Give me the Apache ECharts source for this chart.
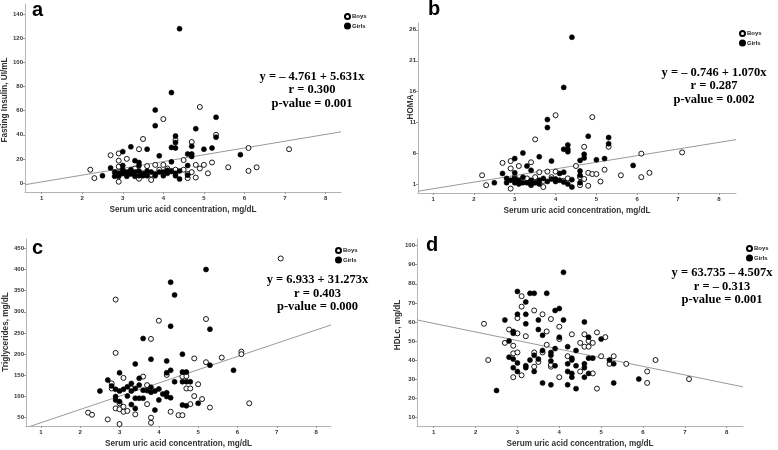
<!DOCTYPE html>
<html><head><meta charset="utf-8">
<script src="https://cdn.jsdelivr.net/npm/echarts@6/dist/echarts.min.js"></script>
<style>html,body{margin:0;padding:0;background:#fff}#c{width:778px;height:450px}</style>
</head><body><div id="c"></div>
<script>
// ---------- DATA ----------
const xTicks = [1, 2, 3, 4, 5, 6, 7, 8];
const yTicksA = [0, 20, 40, 60, 80, 100, 120, 140];
const yTicksB = [1, 6, 11, 16, 21, 26];
const yTicksC = [50, 100, 150, 200, 250, 300, 350, 400, 450];
const yTicksD = [10, 20, 30, 40, 50, 60, 70, 80, 90, 100];

const xTitle = 'Serum uric acid concentration, mg/dL';
const yTitles = ['Fasting Insulin, UI/mL', 'HOMA', 'Triglycerides, mg/dL', 'HDLc, mg/dL'];
const panelLetters = ['a', 'b', 'c', 'd'];
const groupNames = ['Boys', 'Girls'];

// regression coefficients [intercept, slope] as printed
const fitA = [-4.761, 5.631];
const fitB = [-0.746, 1.070];
const fitC = [6.933, 31.273];
const fitD = [63.735, -4.507];

const eqA = ['y = – 4.761 + 5.631x', 'r = 0.300', 'p-value = 0.001'];
const eqB = ['y = – 0.746 + 1.070x', 'r = 0.287', 'p-value = 0.002'];
const eqC = ['y = 6.933 + 31.273x', 'r = 0.403', 'p-value = 0.000'];
const eqD = ['y = 63.735 – 4.507x', 'r = – 0.313', 'p-value = 0.001'];

// Panel a: Fasting insulin
const aBoys = [[2.2,11],[2.3,4],[2.7,23],[2.9,24.5],[2.9,18.5],[2.9,13.5],[2.9,1],[2.9,9],[3.0,8],[3.1,20],[3.2,10],[3.3,12],[3.4,28],[3.4,3.5],[3.5,36.5],[3.5,8],[3.6,14],[3.7,2.5],[3.7,7],[3.8,15],[3.9,11],[4.0,53],[4.0,15],[4.1,12],[4.2,10],[4.3,35.5],[4.3,11],[4.5,19],[4.5,11],[4.6,4],[4.6,7.5],[4.7,34],[4.7,9],[4.8,15],[4.8,4.5],[4.9,12],[4.9,63],[5.0,15],[5.1,8],[5.2,17],[5.3,40],[5.6,13],[6.1,29],[6.1,10],[6.3,13],[7.1,28]];
const aGirls = [[4.4,128],[4.2,75],[3.8,60.5],[3.8,47.5],[5.3,54.5],[4.8,45],[5.3,38],[4.3,39],[4.3,33.5],[4.2,29.5],[4.3,29],[4.7,30.5],[5.2,29],[5.0,28],[3.6,28],[3.2,30],[3.0,26],[3.9,22.5],[3.3,18.5],[3.4,17],[3.4,14.5],[3.0,14.5],[2.7,12.5],[2.5,6],[4.2,17.5],[4.6,24],[4.7,24],[4.7,22],[4.6,14.5],[4.6,6.5],[4.4,3.3],[4.4,10],[5.9,23.5],[2.8,9],[2.8,5.5],[2.9,8],[2.9,5.5],[3.0,8],[3.0,11],[3.1,9],[3.1,5.5],[3.2,7.5],[3.2,11],[3.3,9],[3.3,5.5],[3.4,6],[3.4,10],[3.5,7.5],[3.5,6],[3.6,6],[3.6,10],[3.7,9],[3.8,7.5],[3.8,6],[3.9,9],[4.0,9],[4.0,6],[4.1,10.5],[4.1,8],[4.2,9.5],[4.3,6],[4.3,8]];

// Panel b: HOMA
const bBoys = [[2.2,2.5],[2.3,0.9],[2.7,4.5],[2.9,4.8],[2.9,3.6],[2.9,0.35],[3.0,2.2],[3.1,4.0],[3.3,2.0],[3.4,4.6],[3.4,0.9],[3.5,8.3],[3.5,2.2],[3.6,3.0],[3.7,0.6],[3.7,1.6],[3.8,3.1],[3.9,2.2],[4.0,12.2],[4.0,3.1],[4.2,1.6],[4.3,2.0],[4.5,4.0],[4.6,0.9],[4.6,2.2],[4.7,7.1],[4.7,1.9],[4.8,2.9],[4.8,0.8],[4.9,2.7],[4.9,11.9],[5.0,2.7],[5.1,1.5],[5.2,3.4],[5.3,7.1],[5.6,2.5],[6.1,6.0],[6.1,2.2],[6.3,2.9],[7.1,6.2]];
const bGirls = [[4.4,24.8],[4.2,16.7],[3.8,11.5],[3.8,10.2],[5.3,8.6],[4.8,8.8],[5.3,7.6],[4.3,7.4],[4.3,6.7],[4.2,6.7],[4.3,6.3],[4.7,5.9],[4.7,5.3],[4.6,4.9],[5.2,5.2],[5.0,5.0],[3.6,5.5],[3.2,6.1],[3.0,5.2],[3.9,4.8],[3.3,4.0],[3.4,3.3],[3.0,2.9],[2.7,2.8],[2.5,1.3],[4.1,2.8],[4.2,3.0],[4.6,3.2],[4.6,2.5],[4.6,1.3],[4.4,0.6],[4.4,1.8],[5.9,4.1],[4.3,1.1],[2.8,2.0],[2.8,1.3],[2.9,1.7],[3.0,1.3],[3.0,2.0],[3.1,1.7],[3.2,1.3],[3.2,2.2],[3.3,1.3],[3.4,1.7],[3.5,1.3],[3.6,1.7],[3.6,1.1],[3.7,2.0],[3.8,1.5],[3.9,1.9],[4.0,1.9],[4.0,1.5],[4.1,1.7],[4.2,1.4],[3.4,1.0],[3.1,1.1]];

// Panel c: Triglycerides
const cBoys = [[2.2,62],[2.3,57],[2.7,46],[2.8,131],[2.8,119],[2.9,329],[2.9,203],[2.9,72],[3.0,35],[3.0,70],[3.0,84],[3.1,64],[3.1,76],[3.1,144],[3.2,66],[3.3,119],[3.4,58],[3.6,147],[3.7,82],[3.7,127],[3.8,236],[3.8,50],[3.8,38],[4.0,279],[4.2,151],[4.3,64],[4.5,56],[4.6,56],[4.6,147],[4.7,148],[4.7,119],[4.8,119],[4.8,82],[4.9,190],[4.9,101],[5.0,129],[5.1,94],[5.2,283],[5.2,181],[5.3,74],[5.6,192],[6.1,206],[6.1,200],[6.3,84],[7.1,426]];
const cGirls = [[5.2,400],[4.3,370],[4.4,340],[4.3,266],[5.3,259],[3.6,237],[3.8,188],[4.2,184],[3.4,177],[5.3,174],[5.9,162],[4.6,200],[3.0,156],[4.2,156],[4.3,162],[4.6,158],[4.7,158],[2.7,139],[2.5,113],[2.8,125],[2.9,117],[2.9,100],[2.9,92],[3.0,113],[3.0,88],[3.1,117],[3.2,123],[3.2,101],[3.3,113],[3.3,131],[3.3,81],[3.4,119],[3.4,96],[3.4,72],[3.5,143],[3.5,127],[3.5,96],[3.6,115],[3.6,96],[3.7,114],[3.8,122],[3.8,110],[3.9,113],[3.9,68],[4.0,118],[4.0,92],[4.1,106],[4.2,109],[4.2,100],[4.3,97],[4.4,135],[4.6,135],[4.7,135],[4.8,135],[4.6,80],[4.7,78],[5.0,84]];

// Panel d: HDLc
const dBoys = [[2.2,59],[2.3,40],[2.8,56],[2.7,49],[2.9,47.5],[2.9,43.5],[2.9,31],[3.0,44],[3.0,62],[3.0,54],[3.1,32],[3.1,68],[3.1,73.5],[3.2,52.5],[3.4,66],[3.4,44],[3.4,36.5],[3.5,39],[3.6,44],[3.6,64],[3.7,55],[3.7,48],[3.8,61.5],[3.8,36.5],[3.8,37.5],[4.0,57.5],[4.0,51],[4.0,31],[4.2,42],[4.3,53.5],[4.5,49],[4.5,34],[4.6,53.5],[4.6,47],[4.7,47],[4.7,50],[4.8,49],[4.8,33],[4.9,54.5],[4.9,25],[5.0,42],[5.1,52],[5.2,38],[5.3,42],[5.6,38],[6.1,34],[6.1,28],[6.3,40],[7.1,30]];
const dGirls = [[2.5,24],[2.7,61],[2.8,50],[2.8,41.5],[2.9,55],[2.9,54],[2.9,40.5],[2.9,36],[3.0,76],[3.0,64],[3.0,38.5],[3.0,34],[3.2,70.5],[3.2,64],[3.2,59],[3.2,37],[3.2,36],[3.3,75],[3.4,75],[3.3,40],[3.4,42.5],[3.4,34],[3.5,61],[3.5,56],[3.5,40.5],[3.6,53],[3.6,45],[3.6,28],[3.7,75],[3.8,44],[3.8,42.5],[3.8,39.5],[3.8,27],[3.9,66],[3.9,46],[3.9,37],[4.0,67],[4.0,52],[4.1,86],[4.1,61],[4.2,47],[4.2,38],[4.2,34],[4.2,27],[4.3,41],[4.3,40],[4.3,33],[4.3,31],[4.4,45],[4.4,37],[4.4,25],[4.6,60],[4.6,38],[4.6,36],[4.6,31],[4.7,52],[4.7,41],[4.7,33],[4.8,41],[5.0,51],[5.2,40],[5.3,38],[5.3,28],[5.9,30]];

// ---------- LAYOUT ----------
const panels = [
  {grid:{left:25,top:4,width:316,height:188}, xr:[0.59,8.38], yr:[-7.5,148.5], yTicks:yTicksA, boys:aBoys, girls:aGirls, fit:fitA, eq:eqA,
   eqPos:[312,76.5], lab:[32,10], yt:[5,100], leg:[344,13]},
  {grid:{left:418,top:23,width:318,height:170}, xr:[0.63,8.42], yr:[-0.36,27.1], yTicks:yTicksB, boys:bBoys, girls:bGirls, fit:fitB, eq:eqB,
   eqPos:[714,72.5], lab:[428,9], yt:[411,107], leg:[739,30]},
  {grid:{left:26,top:239,width:305,height:187}, xr:[0.62,8.38], yr:[30.4,472], yTicks:yTicksC, boys:cBoys, girls:cGirls, fit:fitC, eq:eqC,
   eqPos:[317.5,280], lab:[32,248], yt:[5.5,332], leg:[335,247]},
  {grid:{left:417,top:239,width:326,height:187}, xr:[0.60,8.39], yr:[5.4,103.5], yTicks:yTicksD, boys:dBoys, girls:dGirls, fit:fitD, eq:eqD,
   eqPos:[722,273], lab:[426,245], yt:[397.5,325], leg:[746,245]}
];

const axisColor = '#b4b4b4';
const labelStyle = {fontSize:6, fontWeight:'bold', color:'#333', fontFamily:'Liberation Sans, Arial, sans-serif'};

const option = {
  animation:false,
  backgroundColor:'#fff',
  grid:[], xAxis:[], yAxis:[], series:[], legend:[], graphic:[]
};

panels.forEach((p, i) => {
  option.grid.push(Object.assign({outerBoundsMode:'none', containLabel:false}, p.grid));
  option.xAxis.push({
    type:'value', gridIndex:i, min:p.xr[0], max:p.xr[1],
    axisLine:{show:true, onZero:false, lineStyle:{color:axisColor, width:1}},
    axisTick:{show:true, length:2, customValues:xTicks, lineStyle:{color:'#999'}},
    axisLabel:Object.assign({customValues:xTicks, margin:3}, labelStyle),
    splitLine:{show:false},
    name:xTitle, nameLocation:'middle', nameGap:14,
    nameTextStyle:{fontSize:8.2, fontWeight:'bold', color:'#333', fontFamily:'Liberation Sans, Arial, sans-serif'}
  });
  option.yAxis.push({
    type:'value', gridIndex:i, min:p.yr[0], max:p.yr[1],
    axisLine:{show:true, onZero:false, lineStyle:{color:axisColor, width:1}},
    axisTick:{show:true, length:2, customValues:p.yTicks, lineStyle:{color:'#999'}},
    axisLabel:Object.assign({customValues:p.yTicks, margin:2}, labelStyle),
    splitLine:{show:false}
  });
  option.series.push({
    name:groupNames[0], type:'scatter', xAxisIndex:i, yAxisIndex:i, data:p.boys,
    symbol:'circle', symbolSize:5, z:3,
    itemStyle:{color:'#fff', borderColor:'#000', borderWidth:0.9, opacity:1}
  });
  option.series.push({
    name:groupNames[1], type:'scatter', xAxisIndex:i, yAxisIndex:i, data:p.girls,
    symbol:'circle', symbolSize:5, z:4,
    itemStyle:{color:'#000', borderColor:'#000', borderWidth:0.6, opacity:1}
  });
  option.series.push({
    name:'Fit', type:'line', xAxisIndex:i, yAxisIndex:i, silent:true, showSymbol:false, symbol:'none', z:2,
    clip:true,
    data:[[p.xr[0], p.fit[0] + p.fit[1]*p.xr[0]], [p.xr[1], p.fit[0] + p.fit[1]*p.xr[1]]],
    lineStyle:{color:'#9a9a9a', width:1}
  });
  option.legend.push({
    data:[{name:groupNames[0], icon:'circle'}, {name:groupNames[1], icon:'circle'}],
    orient:'vertical', left:p.leg[0], top:p.leg[1], padding:0,
    itemWidth:5, itemHeight:5, itemGap:2.5, selectedMode:false,
    textStyle:{fontSize:6, fontWeight:'bold', color:'#222', padding:[0,0,0,-3], fontFamily:'Liberation Sans, Arial, sans-serif'}
  });
  p.eq.forEach((t, k) => {
    option.graphic.push({type:'text', x:p.eqPos[0], y:p.eqPos[1] + k*13.4, silent:true,
      style:{text:t, align:'center', verticalAlign:'middle', fill:'#000',
             font:'bold 12.5px "Liberation Serif", "Times New Roman", serif'}});
  });
  option.graphic.push({type:'text', x:p.lab[0], y:p.lab[1], silent:true,
    style:{text:panelLetters[i], align:'left', verticalAlign:'middle', fill:'#000',
           font:'bold 20px "Liberation Sans", Arial, sans-serif'}});
  option.graphic.push({type:'text', x:p.yt[0], y:p.yt[1], rotation:Math.PI/2, silent:true,
    style:{text:yTitles[i], align:'center', verticalAlign:'middle', fill:'#333',
           font:'bold 8.2px "Liberation Sans", Arial, sans-serif'}});
});

const chart = echarts.init(document.getElementById('c'), null, {renderer:'canvas'});
chart.setOption(option);
</script>
</body></html>
